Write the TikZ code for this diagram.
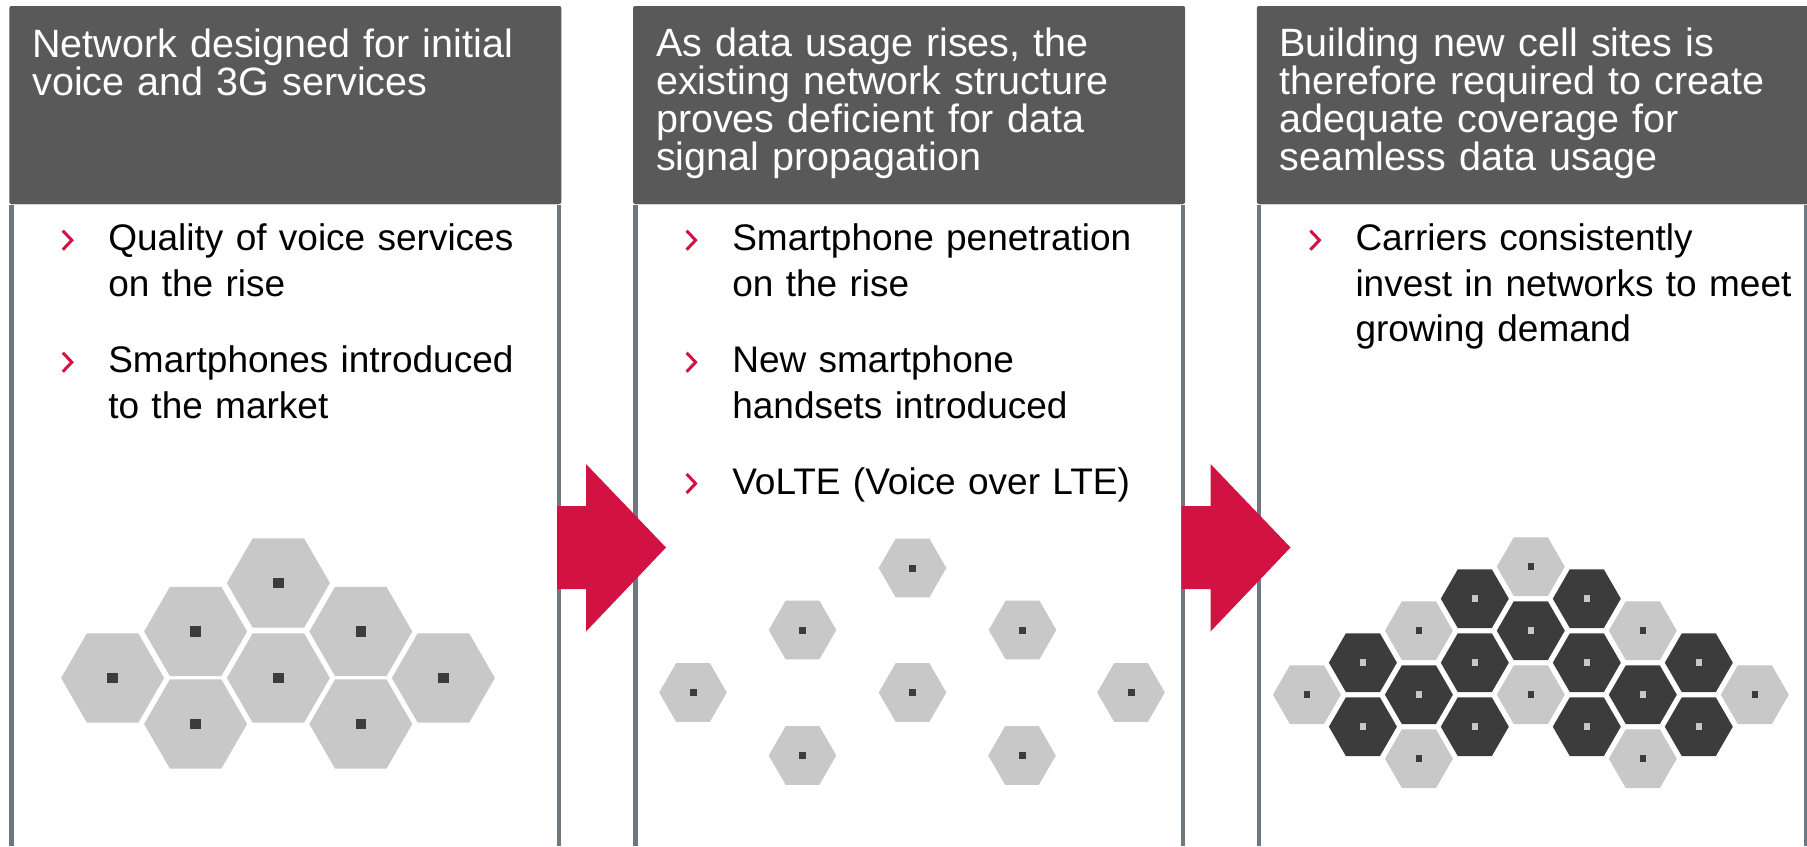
\documentclass[tikz,border=0pt]{standalone}
\usepackage{fontspec}
\setmainfont{Liberation Sans}
\definecolor{hdrgray}{HTML}{595959}
\definecolor{linegray}{HTML}{6E7881}
\definecolor{crimson}{HTML}{D11242}
\definecolor{hexlight}{HTML}{C8C8C8}
\definecolor{hexdark}{HTML}{3C3C3C}
\definecolor{sepgray}{HTML}{D4D4D4}

% light cell: centre x, centre y, radius, half size of the square
\newcommand\lightcell[4]{%
  \fill[hexlight] (#1,#2) +(0:#3) -- +(60:#3) -- +(120:#3) -- +(180:#3) -- +(240:#3) -- +(300:#3) -- cycle;
  \fill[hexdark] (#1-#4,#2-#4) rectangle (#1+#4,#2+#4);}
\newcommand\darkcell[4]{%
  \fill[hexdark] (#1,#2) +(0:#3) -- +(60:#3) -- +(120:#3) -- +(180:#3) -- +(240:#3) -- +(300:#3) -- cycle;
  \fill[hexlight] (#1-#4,#2-#4) rectangle (#1+#4,#2+#4);}
% chevron bullet: panel left x, baseline y
\newcommand\chevmark[2]{%
  \draw[crimson, line width=3, miter limit=10] (#1+53.5,#2-20) -- (#1+62.5,#2-10.5) -- (#1+53.5,#2-1);}
% panel frame: left x
\newcommand\panelframe[1]{%
  \fill[hdrgray, rounded corners=2] (#1,6) rectangle (#1+552,204);
  \draw[sepgray, line width=1.2] (#1+2,204.6) -- (#1+550,204.6);
  \draw[linegray, line width=4.5] (#1+2.3,205) -- (#1+2.3,846);
  \draw[linegray, line width=4.5] (#1+549.7,205) -- (#1+549.7,846);}
% block arrow: left x of shaft
\newcommand\blockarrow[1]{%
  \fill[crimson] (#1,506) -- (#1+29,506) -- (#1+29,464) -- (#1+109,547.5) -- (#1+29,631.5) -- (#1+29,589) -- (#1,589) -- cycle;}

\tikzset{
  hdrtext/.style={anchor=base west, inner sep=0pt, outer sep=0pt, text=white,
    text width=525pt, align=left, font=\fontsize{39.5}{38}\selectfont},
  bultext/.style={anchor=base west, inner sep=0pt, outer sep=0pt, text=black,
    text width=450pt, align=left, font=\fontsize{37}{45.6}\selectfont},
}

\begin{document}
\begin{tikzpicture}[x=1pt,y=-1pt]
\useasboundingbox (0,0) rectangle (1807,846);
\fill[white] (0,0) rectangle (1807,846);

% ---------- frames ----------
\panelframe{9.3}
\panelframe{633.1}
\panelframe{1256.9}

% ---------- headers ----------
\node[hdrtext] (h1) at (32.3,57) {Network designed for initial\\voice and 3G services};
\node[hdrtext] (h2) at (656.1,56.8) {As data usage rises, the\\existing network structure\\proves deficient for data\\signal propagation};
\node[hdrtext] (h3) at (1279.4,56.8) {Building new cell sites is\\therefore required to create\\adequate coverage for\\seamless data usage};

% ---------- bullets ----------
\chevmark{9.3}{250.7}
\node[bultext] (b11) at (108.3,250.7) {Quality of voice services\\on the rise};
\chevmark{9.3}{372.7}
\node[bultext] (b12) at (108.3,372.7) {Smartphones introduced\\to the market};

\chevmark{633.1}{250.7}
\node[bultext] (b21) at (732.3,250.7) {Smartphone penetration\\on the rise};
\chevmark{633.1}{372.7}
\node[bultext] (b22) at (732.3,372.7) {New smartphone\\handsets introduced};
\chevmark{633.1}{494}
\node[bultext] (b23) at (732.3,494) {VoLTE (Voice over LTE)};

\chevmark{1256.9}{250.7}
\node[bultext] (b31) at (1355.5,250.7) {Carriers consistently\\invest in networks to meet\\growing demand};

% ---------- panel 1 cells ----------
\lightcell{278.4}{583}{51.5}{5.3}
\lightcell{195.6}{631.5}{51.5}{5.3}
\lightcell{360.8}{631.5}{51.5}{5.3}
\lightcell{112.6}{678}{51.5}{5.3}
\lightcell{278.4}{678}{51.5}{5.3}
\lightcell{443.4}{678}{51.5}{5.3}
\lightcell{195.6}{724}{51.5}{5.3}
\lightcell{360.8}{724}{51.5}{5.3}

% ---------- panel 2 cells ----------
\lightcell{912.5}{568}{33.8}{3.5}
\lightcell{802.5}{630}{33.8}{3.5}
\lightcell{1022.5}{630}{33.8}{3.5}
\lightcell{693}{692.5}{33.8}{3.5}
\lightcell{912.5}{692.5}{33.8}{3.5}
\lightcell{1131}{692.5}{33.8}{3.5}
\lightcell{802.5}{755.5}{33.8}{3.5}
\lightcell{1022}{755.5}{33.8}{3.5}

% ---------- panel 3 cells ----------
\lightcell{1306.9}{694.7}{34}{3.3}
\darkcell{1362.9}{662.7}{34}{3.3}
\darkcell{1362.9}{726.7}{34}{3.3}
\lightcell{1418.9}{630.7}{34}{3.3}
\darkcell{1418.9}{694.7}{34}{3.3}
\lightcell{1418.9}{758.7}{34}{3.3}
\darkcell{1474.8}{598.7}{34}{3.3}
\darkcell{1474.8}{662.7}{34}{3.3}
\darkcell{1474.8}{726.7}{34}{3.3}
\lightcell{1530.8}{566.7}{34}{3.3}
\darkcell{1530.8}{630.7}{34}{3.3}
\lightcell{1530.8}{694.7}{34}{3.3}
\darkcell{1586.8}{598.7}{34}{3.3}
\darkcell{1586.8}{662.7}{34}{3.3}
\darkcell{1586.8}{726.7}{34}{3.3}
\lightcell{1642.8}{630.7}{34}{3.3}
\darkcell{1642.8}{694.7}{34}{3.3}
\lightcell{1642.8}{758.7}{34}{3.3}
\darkcell{1698.8}{662.7}{34}{3.3}
\darkcell{1698.8}{726.7}{34}{3.3}
\lightcell{1754.8}{694.7}{34}{3.3}

% ---------- block arrows ----------
\blockarrow{557}
\blockarrow{1181.5}
\end{tikzpicture}
\end{document}
